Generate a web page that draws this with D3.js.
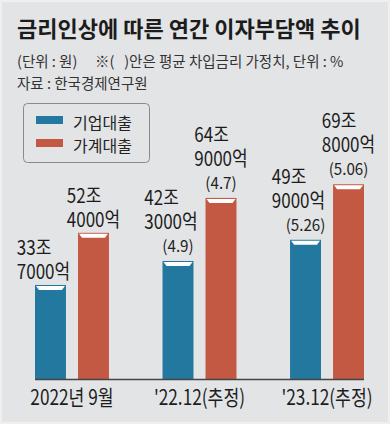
<!DOCTYPE html>
<meta charset="utf-8">
<script src="https://d3js.org/d3.v7.min.js"></script>
<style>
  body { margin: 0; background: #e3e4e6; }
  svg text { font-family: "Noto Sans CJK KR", "Noto Sans", sans-serif; }
</style>
<div id="chart"></div>
<script>

// data: 조 원 (trillion won), rates in %
var periods = ["2022년 9월", "'22.12(추정)", "'23.12(추정)"];
var seriesNames = ["기업대출", "가계대출"];
var corpLoans = [33.7, 42.3, 49.9];
var householdLoans = [52.4, 64.9, 69.8];
var corpRates = [null, "4.9", "5.26"];
var householdRates = [null, "4.7", "5.06"];

var colors = {"기업대출": "#22789f", "가계대출": "#c45943"};

var W = 390, H = 424;
var baseY = 379;

var svg = d3.select("#chart").append("svg")
    .attr("width", W)
    .attr("height", H);

svg.append("rect")
  .attr("x", 1).attr("y", 1)
  .attr("width", W - 2).attr("height", H - 2)
  .attr("fill", "#e3e4e6")
  .attr("stroke", "#efeff0")
  .attr("stroke-width", 2);

// title + notes
svg.append("text")
  .attr("x", 17).attr("y", 37)
  .attr("font-size", 22)
  .attr("font-weight", 700)
  .attr("fill", "#1c1c1c")
  .text("금리인상에 따른 연간 이자부담액 추이");

svg.append("text")
  .attr("x", 17).attr("y", 67)
  .attr("font-size", 14.5)
  .attr("fill", "#333")
  .text("(단위 : 원)");
svg.append("text")
  .attr("x", 95).attr("y", 67)
  .attr("font-size", 14.5)
  .attr("fill", "#333")
  .style("white-space", "pre")
  .text("※(   )안은 평균 차입금리 가정치, 단위 : %");
svg.append("text")
  .attr("x", 17).attr("y", 89)
  .attr("font-size", 14.5)
  .attr("fill", "#333")
  .text("자료 : 한국경제연구원");

// legend
var legend = svg.append("g");
legend.append("rect")
  .attr("x", 23.5).attr("y", 103.5)
  .attr("width", 126).attr("height", 59)
  .attr("rx", 4)
  .attr("fill", "none")
  .attr("stroke", "#8a8a8a");
seriesNames.forEach(function(s, i) {
  legend.append("rect")
    .attr("x", 36).attr("y", 116 + i * 23)
    .attr("width", 27).attr("height", 8)
    .attr("fill", colors[s]);
  legend.append("text")
    .attr("x", 73).attr("y", 129 + i * 23)
    .attr("font-size", 16)
    .attr("fill", "#222")
    .text(s);
});

// scales
var x0 = d3.scaleBand()
  .domain(periods)
  .range([35, 364])
  .paddingInner(0.42)
  .paddingOuter(0);

var x1 = d3.scaleBand()
  .domain(seriesNames)
  .range([0, x0.bandwidth()])
  .paddingInner(0.28)
  .paddingOuter(0);

var y = d3.scaleLinear()
  .domain([0, 70])
  .range([baseY, baseY - 70 * 2.79]);

var rows = [];
periods.forEach(function(p, i) {
  rows.push({period: p, series: "기업대출", value: corpLoans[i], rate: corpRates[i]});
  rows.push({period: p, series: "가계대출", value: householdLoans[i], rate: householdRates[i]});
});

// bars
var bars = svg.append("g").selectAll("g")
  .data(rows)
  .join("g");

bars.append("rect")
  .attr("x", function(d) { return x0(d.period) + x1(d.series); })
  .attr("y", function(d) { return y(d.value); })
  .attr("width", x1.bandwidth())
  .attr("height", function(d) { return baseY - y(d.value); })
  .attr("fill", function(d) { return colors[d.series]; });

// white cap at bar top
bars.append("path")
  .attr("fill", "#fff")
  .attr("d", function(d) {
    var l = x0(d.period) + x1(d.series), r = l + x1.bandwidth(), t = y(d.value);
    return "M" + (l + 1) + "," + (t + 1) + "L" + (r - 1) + "," + (t + 1) +
           "L" + (r - 4) + "," + (t + 5) + "L" + (l + 4) + "," + (t + 5) + "Z";
  });

// value labels (조 / 억 on two lines, rate below)
var sx = 0.85;
bars.each(function(d) {
  var g = d3.select(this);
  var cx = x0(d.period) + x1(d.series) + x1.bandwidth() / 2;
  var top = y(d.value);
  var jo = Math.floor(d.value) + "조";
  var eok = Math.round((d.value - Math.floor(d.value)) * 10) * 1000 + "억";
  var shift = d.series === "기업대출" ? -7 : 0;
  var lineY = top - 6;
  if (d.rate) {
    g.append("text")
      .attr("transform", "translate(" + cx + "," + (top - 9) + ") scale(0.95,1)")
      .attr("text-anchor", "middle")
      .attr("font-family", "Roboto, 'Noto Sans CJK KR'")
      .attr("font-size", 16)
      .attr("fill", "#222")
      .text("(" + d.rate + ")");
    lineY = top - 9 - 23;
  }
  var t = g.append("text")
    .attr("font-family", "Roboto, 'Noto Sans CJK KR'")
    .attr("font-size", 20)
    .attr("fill", "#1c1c1c");
  t.append("tspan").attr("x", 0).attr("y", -24).text(jo);
  var t2 = t.append("tspan").attr("x", 0).attr("y", 0).text(eok);
  var w = t2.node().getComputedTextLength() * sx;
  var left = cx + shift - w / 2;
  t.attr("transform", "translate(" + left + "," + lineY + ") scale(" + sx + ",1)");
});

// baseline + period labels
svg.append("line")
  .attr("x1", 35).attr("x2", 364)
  .attr("y1", baseY + 0.5).attr("y2", baseY + 0.5)
  .attr("stroke", "#444")
  .attr("stroke-width", 1.5);

svg.append("g").selectAll("text")
  .data(periods)
  .join("text")
    .attr("transform", function(d) {
      return "translate(" + (x0(d) + x0.bandwidth() / 2) + ",405) scale(0.82,1)";
    })
    .attr("text-anchor", "middle")
    .attr("font-family", "Roboto, 'Noto Sans CJK KR'")
    .attr("font-size", 21)
    .attr("fill", "#1c1c1c")
    .text(function(d) { return d; });

</script>
